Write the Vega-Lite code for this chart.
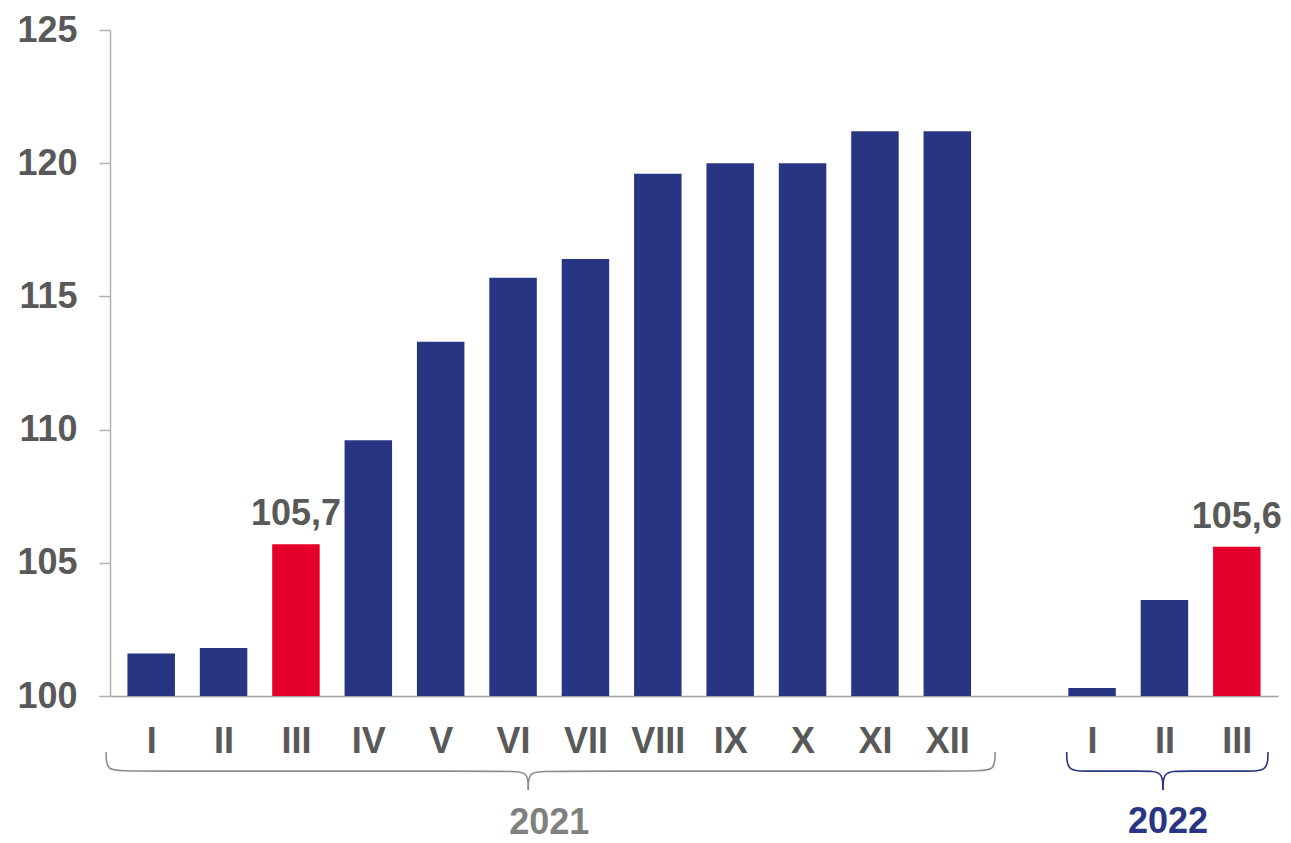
{
  "$schema": "https://vega.github.io/schema/vega-lite/v6.json",
  "width": 1168,
  "height": 666,
  "autosize": "none",
  "padding": {"left": 110, "top": 30, "right": 13, "bottom": 147},
  "background": "white",
  "config": {
    "view": {"stroke": null},
    "font": "Liberation Sans"
  },
  "datasets": {
    "bars": [
      {"slot": 1, "year": "2021", "month": "I", "value": 101.6, "kind": "normal"},
      {"slot": 2, "year": "2021", "month": "II", "value": 101.8, "kind": "normal"},
      {"slot": 3, "year": "2021", "month": "III", "value": 105.7, "kind": "highlight", "label": "105,7"},
      {"slot": 4, "year": "2021", "month": "IV", "value": 109.6, "kind": "normal"},
      {"slot": 5, "year": "2021", "month": "V", "value": 113.3, "kind": "normal"},
      {"slot": 6, "year": "2021", "month": "VI", "value": 115.7, "kind": "normal"},
      {"slot": 7, "year": "2021", "month": "VII", "value": 116.4, "kind": "normal"},
      {"slot": 8, "year": "2021", "month": "VIII", "value": 119.6, "kind": "normal"},
      {"slot": 9, "year": "2021", "month": "IX", "value": 120.0, "kind": "normal"},
      {"slot": 10, "year": "2021", "month": "X", "value": 120.0, "kind": "normal"},
      {"slot": 11, "year": "2021", "month": "XI", "value": 121.2, "kind": "normal"},
      {"slot": 12, "year": "2021", "month": "XII", "value": 121.2, "kind": "normal"},
      {"slot": 14, "year": "2022", "month": "I", "value": 100.3, "kind": "normal"},
      {"slot": 15, "year": "2022", "month": "II", "value": 103.6, "kind": "normal"},
      {"slot": 16, "year": "2022", "month": "III", "value": 105.6, "kind": "highlight", "label": "105,6"}
    ],
    "braces": [
      {"year": "2021", "half": "2021a", "o": 1, "x": 0.377, "y": 97.90},
      {"year": "2021", "half": "2021a", "o": 2, "x": 0.377, "y": 97.18},
      {"year": "2021", "half": "2021a", "o": 3, "x": 0.65, "y": 97.18},
      {"year": "2021", "half": "2021a", "o": 4, "x": 5.95, "y": 97.18},
      {"year": "2021", "half": "2021a", "o": 5, "x": 6.21, "y": 97.18},
      {"year": "2021", "half": "2021a", "o": 6, "x": 6.21, "y": 96.47},
      {"year": "2021", "half": "2021b", "o": 1, "x": 12.66, "y": 97.90},
      {"year": "2021", "half": "2021b", "o": 2, "x": 12.66, "y": 97.18},
      {"year": "2021", "half": "2021b", "o": 3, "x": 12.39, "y": 97.18},
      {"year": "2021", "half": "2021b", "o": 4, "x": 6.47, "y": 97.18},
      {"year": "2021", "half": "2021b", "o": 5, "x": 6.21, "y": 97.18},
      {"year": "2021", "half": "2021b", "o": 6, "x": 6.21, "y": 96.47},
      {"year": "2022", "half": "2022a", "o": 1, "x": 13.65, "y": 97.90},
      {"year": "2022", "half": "2022a", "o": 2, "x": 13.65, "y": 97.18},
      {"year": "2022", "half": "2022a", "o": 3, "x": 13.92, "y": 97.18},
      {"year": "2022", "half": "2022a", "o": 4, "x": 14.72, "y": 97.18},
      {"year": "2022", "half": "2022a", "o": 5, "x": 14.98, "y": 97.18},
      {"year": "2022", "half": "2022a", "o": 6, "x": 14.98, "y": 96.47},
      {"year": "2022", "half": "2022b", "o": 1, "x": 16.43, "y": 97.90},
      {"year": "2022", "half": "2022b", "o": 2, "x": 16.43, "y": 97.18},
      {"year": "2022", "half": "2022b", "o": 3, "x": 16.16, "y": 97.18},
      {"year": "2022", "half": "2022b", "o": 4, "x": 15.24, "y": 97.18},
      {"year": "2022", "half": "2022b", "o": 5, "x": 14.98, "y": 97.18},
      {"year": "2022", "half": "2022b", "o": 6, "x": 14.98, "y": 96.47}
    ],
    "years": [
      {"year": "2021", "x": 6.5, "y": 94.82},
      {"year": "2022", "x": 15.05, "y": 94.86}
    ]
  },
  "resolve": {"scale": {"color": "independent"}},
  "layer": [
    {
      "data": {"name": "bars"},
      "mark": {"type": "bar", "width": 47.5},
      "encoding": {
        "x": {
          "field": "slot",
          "type": "quantitative",
          "scale": {"domain": [0.5, 16.5], "nice": false, "zero": false},
          "axis": {
            "values": [1, 2, 3, 4, 5, 6, 7, 8, 9, 10, 11, 12, 14, 15, 16],
            "labelExpr": "['','I','II','III','IV','V','VI','VII','VIII','IX','X','XI','XII','','I','II','III'][datum.value]",
            "title": null,
            "grid": false,
            "ticks": false,
            "domainColor": "#a0a0a0",
            "domainWidth": 1.5,
            "labelFont": "Liberation Sans",
            "labelFontSize": 36,
            "labelFontWeight": "bold",
            "labelColor": "#595959",
            "labelPadding": 28,
            "labelFlush": false,
            "labelOverlap": false
          }
        },
        "y": {
          "field": "value",
          "type": "quantitative",
          "scale": {"domain": [100, 125], "nice": false, "zero": false},
          "axis": {
            "values": [100, 105, 110, 115, 120, 125],
            "title": null,
            "grid": false,
            "domainColor": "#b0b0b0",
            "domainWidth": 1.5,
            "tickColor": "#b0b0b0",
            "tickWidth": 1.5,
            "tickSize": 11,
            "labelFont": "Liberation Sans",
            "labelFontSize": 36,
            "labelFontWeight": "bold",
            "labelColor": "#595959",
            "labelPadding": 22,
            "labelFlush": false
          }
        },
        "y2": {"datum": 100},
        "color": {
          "field": "kind",
          "type": "nominal",
          "scale": {"domain": ["normal", "highlight"], "range": ["#283583", "#e4002b"]},
          "legend": null
        }
      }
    },
    {
      "data": {"name": "bars"},
      "transform": [{"filter": "isValid(datum.label)"}],
      "mark": {
        "type": "text",
        "font": "Liberation Sans",
        "fontSize": 36,
        "fontWeight": "bold",
        "color": "#595959",
        "baseline": "alphabetic",
        "align": "center",
        "dy": -19
      },
      "encoding": {
        "x": {"field": "slot", "type": "quantitative"},
        "y": {"field": "value", "type": "quantitative"},
        "text": {"field": "label"}
      }
    },
    {
      "data": {"name": "braces"},
      "mark": {"type": "line", "interpolate": "basis", "strokeWidth": 1.6},
      "encoding": {
        "x": {"field": "x", "type": "quantitative"},
        "y": {"field": "y", "type": "quantitative"},
        "detail": {"field": "half"},
        "order": {"field": "o"},
        "color": {
          "field": "year",
          "type": "nominal",
          "scale": {"domain": ["2021", "2022"], "range": ["#8c8c8c", "#283583"]},
          "legend": null
        }
      }
    },
    {
      "data": {"name": "years"},
      "mark": {
        "type": "text",
        "font": "Liberation Sans",
        "fontSize": 36,
        "fontWeight": "bold",
        "baseline": "alphabetic",
        "align": "center"
      },
      "encoding": {
        "x": {"field": "x", "type": "quantitative"},
        "y": {"field": "y", "type": "quantitative"},
        "text": {"field": "year"},
        "color": {
          "field": "year",
          "type": "nominal",
          "scale": {"domain": ["2021", "2022"], "range": ["#808080", "#283583"]},
          "legend": null
        }
      }
    }
  ]
}
